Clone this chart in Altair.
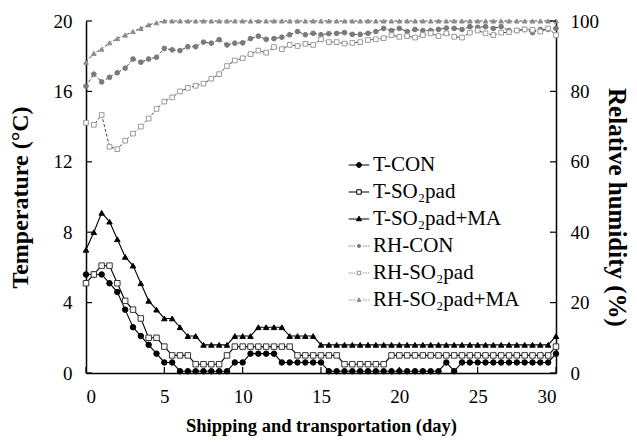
import altair as alt
import pandas as pd

days = [0, 0.5, 1, 1.5, 2, 2.5, 3, 3.5, 4, 4.5, 5, 5.5, 6, 6.5, 7, 7.5, 8, 8.5, 9, 9.5,
        10, 10.5, 11, 11.5, 12, 12.5, 13, 13.5, 14, 14.5, 15, 15.5, 16, 16.5, 17, 17.5,
        18, 18.5, 19, 19.5, 20, 20.5, 21, 21.5, 22, 22.5, 23, 23.5, 24, 24.5, 25, 25.5,
        26, 26.5, 27, 27.5, 28, 28.5, 29, 29.5, 30]

t_con = [5.6, 5.6, 5.6, 5.1, 4.6, 3.6, 2.6, 2.1, 1.6, 1.1, 0.6, 0.6, 0.1, 0.1, 0.1, 0.1,
         0.1, 0.1, 0.1, 0.6, 0.6, 1.1, 1.1, 1.1, 1.1, 0.6, 0.6, 0.6, 0.6, 0.6, 0.6,
         0.1, 0.1, 0.1, 0.1, 0.1, 0.1, 0.1, 0.1, 0.1, 0.1, 0.1, 0.1, 0.1, 0.1, 0.1,
         0.6, 0.1, 0.6, 0.6, 0.6, 0.6, 0.6, 0.6, 0.6, 0.6, 0.6, 0.6, 0.6, 0.6, 1.1]

t_so2 = [5.1, 5.6, 6.1, 6.1, 5.1, 4.1, 3.6, 3.1, 2.0, 2.0, 1.5, 1.0, 1.0, 1.0, 0.5, 0.5,
         0.5, 0.5, 1.0, 1.5, 1.5, 1.5, 1.5, 1.5, 1.5, 1.5, 1.5, 1.0, 1.0, 1.0, 1.0,
         1.0, 1.0, 0.5, 0.5, 0.5, 0.5, 0.5, 0.5, 1.0, 1.0, 1.0, 1.0, 1.0, 1.0, 1.0,
         1.0, 1.0, 1.0, 1.0, 1.0, 1.0, 1.0, 1.0, 1.0, 1.0, 1.0, 1.0, 1.0, 1.0, 1.5]

t_ma = [7.0, 8.0, 9.1, 8.6, 7.6, 6.6, 6.1, 5.1, 4.1, 3.6, 3.1, 3.1, 2.6, 2.1, 2.1, 1.6,
        1.6, 1.6, 1.6, 2.1, 2.1, 2.1, 2.6, 2.6, 2.6, 2.6, 2.1, 2.1, 2.1, 2.1, 1.6,
        1.6, 1.6, 1.6, 1.6, 1.6, 1.6, 1.6, 1.6, 1.6, 1.6, 1.6, 1.6, 1.6, 1.6, 1.6,
        1.6, 1.6, 1.6, 1.6, 1.6, 1.6, 1.6, 1.6, 1.6, 1.6, 1.6, 1.6, 1.6, 1.6, 2.1]

rh_con = [81.5, 84.9, 82.7, 84.0, 85.3, 86.6, 89.2, 88.3, 89.2, 89.7, 92.2, 91.8, 91.6,
          92.7, 92.7, 94.0, 93.7, 94.7, 93.2, 93.7, 93.8, 95.0, 95.7, 94.8, 95.0, 95.4,
          96.1, 97.0, 96.1, 96.5, 96.1, 96.4, 96.5, 96.7, 96.2, 96.2, 96.5, 97.0, 97.9,
          97.3, 97.9, 97.0, 97.6, 97.3, 97.3, 97.6, 98.0, 97.9, 97.6, 98.4, 98.2, 98.4,
          97.9, 98.4, 97.3, 97.3, 97.6, 96.7, 97.6, 97.6, 97.9]

rh_so2 = [71.1, 70.5, 73.3, 64.3, 63.6, 66.0, 68.0, 70.0, 72.3, 75.0, 77.1, 78.3, 80.0,
          81.0, 81.6, 82.2, 83.6, 84.9, 87.2, 88.8, 89.4, 90.6, 91.6, 91.0, 92.6, 92.0,
          93.2, 92.9, 93.5, 93.2, 94.8, 94.0, 94.0, 93.6, 93.8, 94.0, 94.6, 94.8, 95.1,
          96.0, 95.5, 95.7, 95.3, 96.0, 96.5, 95.7, 96.5, 95.5, 95.3, 96.7, 97.3, 96.5,
          96.0, 96.7, 96.8, 97.3, 97.6, 97.5, 97.0, 97.9, 96.0]

rh_ma = [88.3, 90.8, 92.0, 93.8, 95.0, 96.0, 97.0, 97.9, 98.9, 99.5] + [100.0] * 51

t_names = ["T-CON", "T-SO₂pad", "T-SO₂pad+MA"]
rh_names = ["RH-CON", "RH-SO₂pad", "RH-SO₂pad+MA"]
all_names = t_names + rh_names

x_ticks = [0, 5, 10, 15, 20, 25, 30]
t_ticks = [0, 4, 8, 12, 16, 20]
rh_ticks = [0, 20, 40, 60, 80, 100]

FONT = "Liberation Serif"

t_df = pd.concat([pd.DataFrame({"day": days, "value": v, "series": n})
                  for n, v in zip(t_names, [t_con, t_so2, t_ma])])
rh_df = pd.concat([pd.DataFrame({"day": days, "value": v, "series": n})
                   for n, v in zip(rh_names, [rh_con, rh_so2, rh_ma])])
leg_df = pd.DataFrame({"series": all_names})

x_scale = alt.Scale(domain=[0, 30], nice=False, zero=False)
x_axis = alt.Axis(values=x_ticks, tickSize=0, labelPadding=14, labelFontSize=19,
                  labelFont=FONT, labelColor="black", titleFont=FONT, titleColor="black",
                  title="Shipping and transportation (day)", titleFontSize=18.5,
                  titleFontWeight="bold", titleY=52, titleBaseline="middle",
                  domainWidth=1.5, domainColor="black", grid=False)
t_scale = alt.Scale(domain=[0, 20], nice=False, zero=True)
t_axis = alt.Axis(orient="left", values=t_ticks, tickSize=0, labelPadding=14,
                  labelFontSize=19, labelFont=FONT, labelColor="black",
                  title="Temperature (°C)", titleFont=FONT, titleColor="black",
                  titleFontSize=24, titleFontWeight="bold", titleX=-66, titleY=176,
                  titleAngle=270, titleBaseline="middle", domainWidth=1.5,
                  domainColor="black", grid=False)
rh_scale = alt.Scale(domain=[0, 100], nice=False, zero=True)
rh_axis = alt.Axis(orient="right", values=rh_ticks, tickSize=0, labelPadding=14,
                   labelFontSize=19, labelFont=FONT, labelColor="black",
                   title="Relative humidity (%)", titleFont=FONT, titleColor="black",
                   titleFontSize=25, titleFontWeight="bold", titleX=60, titleY=186,
                   titleAngle=90, titleBaseline="middle", domainWidth=1.5,
                   domainColor="black", grid=False)


def xenc(field="day"):
    return alt.X(f"{field}:Q", scale=x_scale, axis=x_axis)


def tenc(field="value"):
    return alt.Y(f"{field}:Q", scale=t_scale, axis=t_axis)


def rhenc(field="value"):
    return alt.Y(f"{field}:Q", scale=rh_scale, axis=rh_axis)


# Temperature group
t_line = alt.Chart(t_df).mark_line(color="black", strokeWidth=1.1).encode(
    x=xenc(), y=tenc(), detail="series:N")
t_pts = alt.Chart(t_df).mark_point(filled=True, size=30, strokeWidth=1, opacity=1).encode(
    x=xenc(), y=tenc(),
    shape=alt.Shape("series:N", scale=alt.Scale(domain=t_names,
                    range=["circle", "square", "triangle-up"]), legend=None),
    fill=alt.Fill("series:N", scale=alt.Scale(domain=t_names,
                  range=["black", "white", "black"]), legend=None),
    stroke=alt.Stroke("series:N", scale=alt.Scale(domain=t_names,
                      range=["black", "#333333", "black"]), legend=None),
)
x_tick_rules = alt.Chart(pd.DataFrame({"day": x_ticks})).mark_rule(
    color="black", strokeWidth=1.2).encode(
    x=xenc(), y=alt.value(352), y2=alt.value(346))
t_tick_rules = alt.Chart(pd.DataFrame({"value": t_ticks})).mark_rule(
    color="black", strokeWidth=1.2).encode(
    y=tenc(), x=alt.value(0), x2=alt.value(6))

t_group = alt.layer(t_line, t_pts, x_tick_rules, t_tick_rules)

# Relative humidity group
rh_line = alt.Chart(rh_df).mark_line(color="#444444", strokeWidth=1,
                                     strokeDash=[3, 2]).encode(
    x=xenc(), y=rhenc(), detail="series:N")
rh_pts = alt.Chart(rh_df).mark_point(filled=True, size=22, strokeWidth=1, opacity=1).encode(
    x=xenc(), y=rhenc(),
    shape=alt.Shape("series:N", scale=alt.Scale(domain=rh_names,
                    range=["circle", "square", "triangle-up"]), legend=None),
    fill=alt.Fill("series:N", scale=alt.Scale(domain=rh_names,
                  range=["#7a7a7a", "white", "#8c8c8c"]), legend=None),
    stroke=alt.Stroke("series:N", scale=alt.Scale(domain=rh_names,
                      range=["#7a7a7a", "#9a9a9a", "#8c8c8c"]), legend=None),
)
rh_tick_rules = alt.Chart(pd.DataFrame({"value": rh_ticks})).mark_rule(
    color="black", strokeWidth=1.2).encode(
    y=rhenc(), x=alt.value(470), x2=alt.value(464))

rh_group = alt.layer(rh_line, rh_pts, rh_tick_rules)

# Legend (line + marker symbols)
solid_circle = "M-1,0H-0.24M0.24,0H1M-0.24,0A0.24,0.24,0,1,1,0.24,0A0.24,0.24,0,1,1,-0.24,0Z"
solid_square = "M-1,0H-0.22M0.22,0H1M-0.22,-0.22H0.22V0.22H-0.22Z"
solid_tri = "M-1,0H-0.15M0.15,0H1M0,-0.27L0.25,0.17H-0.25Z"
dash_l = "M-1,0H-0.86M-0.76,0H-0.62M-0.52,0H-0.38"
dash_r = "M0.38,0H0.52M0.62,0H0.76M0.86,0H1"
dash_circle = dash_l + dash_r + "M-0.16,0A0.16,0.16,0,1,1,0.16,0A0.16,0.16,0,1,1,-0.16,0Z"
dash_square = dash_l + dash_r + "M-0.17,-0.17H0.17V0.17H-0.17Z"
dash_tri = dash_l + dash_r + "M0,-0.21L0.19,0.14H-0.19Z"

leg = alt.Legend(title=None, orient="none", legendX=262, legendY=133,
                 labelFont=FONT, labelFontSize=21, labelColor="black",
                 symbolSize=420, symbolStrokeWidth=1, rowPadding=6, labelOffset=3,
                 padding=0, symbolOpacity=1)

legend_layer = alt.Chart(leg_df).mark_point(filled=True, size=10, clip=True).encode(
    x=alt.value(-200), y=alt.value(-200),
    shape=alt.Shape("series:N", scale=alt.Scale(domain=all_names,
                    range=[solid_circle, solid_square, solid_tri,
                           dash_circle, dash_square, dash_tri]), legend=leg),
    fill=alt.Fill("series:N", scale=alt.Scale(domain=all_names,
                  range=["black", "white", "black", "#7a7a7a", "white", "#8c8c8c"]),
                  legend=leg),
    stroke=alt.Stroke("series:N", scale=alt.Scale(domain=all_names,
                      range=["black", "black", "black", "#7a7a7a", "#8a8a8a", "#8a8a8a"]),
                      legend=leg),
)

chart = alt.layer(t_group, rh_group, legend_layer).resolve_scale(
    y="independent", shape="independent", fill="independent", stroke="independent"
).properties(
    width=470, height=352,
    autosize=alt.AutoSizeParams(type="none"),
    padding={"left": 78, "top": 13, "right": 73, "bottom": 63},
).configure(
    background="white",
    view=alt.ViewConfig(stroke=None),
)

chart.save("out.html", embed_options={"renderer": "svg", "actions": False})
